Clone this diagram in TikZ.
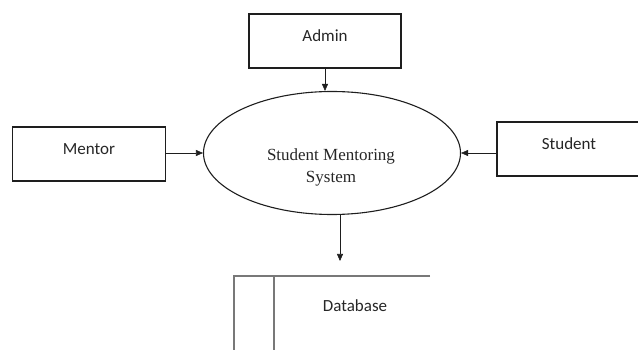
\documentclass[tikz,border=0pt]{standalone}
\usepackage{fontspec}
\usetikzlibrary{positioning, arrows.meta, shapes.geometric}
\newfontfamily\boxfont{Carlito}
\newfontfamily\procfont{Liberation Serif}
\definecolor{dfdline}{RGB}{30, 30, 30}
\definecolor{storeline}{RGB}{120, 120, 120}
\tikzset{
    entity/.style={draw=dfdline, line width=1.1pt, rectangle,
                   font=\boxfont\fontsize{17}{20}\selectfont,
                   text=black!85, text height=8pt, text depth=7pt,
                   minimum height=54pt, inner sep=0pt},
    flow/.style={-{Triangle[length=7pt, width=6pt]}, line width=0.6pt,
                 draw=dfdline}
}

\begin{document}
\begin{tikzpicture}[x=1pt, y=-1pt]
        \useasboundingbox (0, 0) rectangle (638, 350);
        % external entities
        \node[entity, minimum width=152pt] (admin) at (325, 41) {Admin};
        \node[entity, minimum width=153pt] (mentor) at (89, 154) {Mentor};
        \node[entity, minimum width=144pt] (student) at (569, 149)
            {Student};
        % process
        \node[draw=dfdline, line width=1.1pt, ellipse,
              minimum width=257pt, minimum height=123pt] (sms)
            at (332, 153) {};
        \node[font=\procfont\fontsize{17}{22}\selectfont, text=black!85,
              align=center] (smstext) at (331, 167)
            {Student Mentoring\\System};
        % data store
        \draw[storeline, line width=1.1pt]
            (430, 276) -- (234, 276) -- (234, 352);
        \draw[storeline, line width=1.1pt] (274, 276) -- (274, 352);
        \node[font=\boxfont\fontsize{17}{20}\selectfont, text=black!85]
            (dbtext) at (355, 306) {Database};
        % flows
        \coordinate (dbin) at (340, 261);
        \draw[flow] (admin.south) -- (admin.south |- sms.north);
        \draw[flow] (mentor.east |- sms.west) -- (sms.west);
        \draw[flow] (student.west |- sms.east) -- (sms.east);
        \draw[flow] (sms.south -| dbin) -- (dbin);
    \end{tikzpicture}
\end{document}
